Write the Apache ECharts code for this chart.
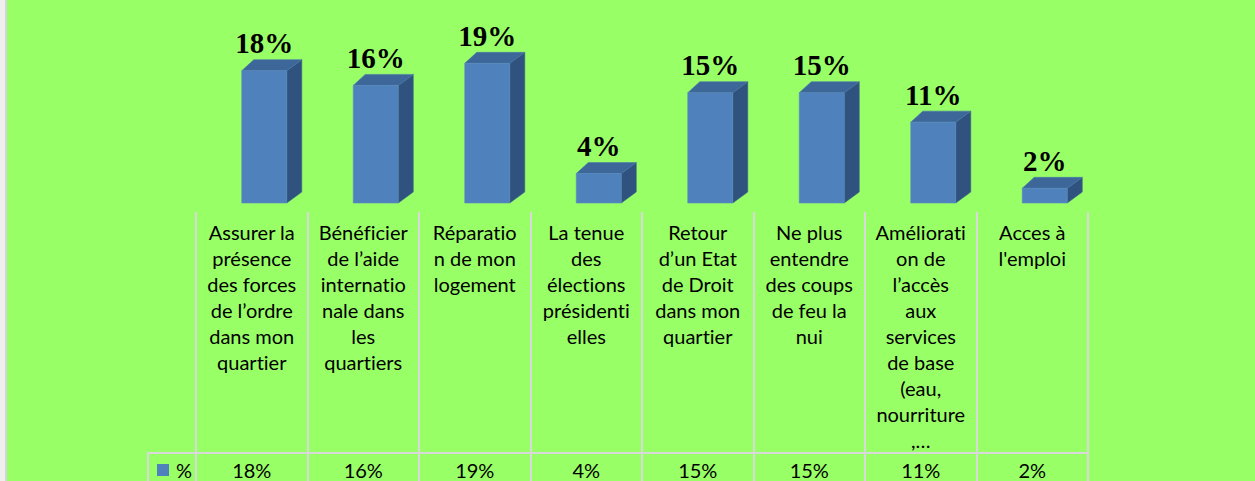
<!DOCTYPE html>
<html>
<head>
<meta charset="utf-8">
<script src="https://cdn.jsdelivr.net/npm/echarts@6/dist/echarts.min.js"></script>
<style>
html,body{margin:0;padding:0;background:#99FF66;}
#c{width:1255px;height:481px;}
#c text{font-variant-ligatures:none;font-feature-settings:"liga" 0;}
</style>
</head>
<body>
<div id="c"></div>
<script>
const categories = [
  "Assurer la\nprésence\ndes forces\nde l’ordre\ndans mon\nquartier",
  "Bénéficier\nde l’aide\ninternatio\nnale dans\nles\nquartiers",
  "Réparatio\nn de mon\nlogement",
  "La tenue\ndes\nélections\nprésidenti\nelles",
  "Retour\nd’un Etat\nde Droit\ndans mon\nquartier",
  "Ne plus\nentendre\ndes coups\nde feu la\nnui",
  "Améliorati\non de\nl’accès\naux\nservices\nde base\n(eau,\nnourriture\n,…",
  "Acces à\nl'emploi"
];
const seriesName = "%";
const values = [18, 16, 19, 4, 15, 15, 11, 2];

const FRONT = '#4F81BD', TOP = '#3D6699', SIDE = '#30527E';
const GRIDC = '#D9D9D9';
const FONT = 'Lato';

const chart = echarts.init(document.getElementById('c'), null, { renderer: 'svg' });

function renderItem(params, api) {
  const idx = api.value(0), v = api.value(1);
  const base = api.coord([idx, 0]);
  const tp = api.coord([idx, v]);
  const x0 = base[0] - 10, x1 = x0 + 45;
  const y0 = base[1], y1 = tp[1];
  const dxl = 12, dxr = 15, dy = 11;
  return {
    type: 'group',
    children: [
      { type: 'polygon', shape: { points: [[x1, y0], [x1 + dxr, y0 - dy], [x1 + dxr, y1 - dy], [x1, y1]] },
        style: { fill: SIDE, stroke: '#3A5F8E', lineWidth: 0.6 } },
      { type: 'polygon', shape: { points: [[x0, y1], [x1, y1], [x1 + dxr, y1 - dy], [x0 + dxl, y1 - dy]] },
        style: { fill: TOP, stroke: '#4A77AD', lineWidth: 0.6 } },
      { type: 'rect', shape: { x: x0, y: y1, width: x1 - x0, height: y0 - y1 },
        style: { fill: FRONT, stroke: '#5A8AC4', lineWidth: 0.6 } },
      { type: 'text', style: { text: v + '%', x: (x0 + x1) / 2, y: y1 - 13,
        align: 'center', verticalAlign: 'bottom', fontFamily: 'Liberation Serif',
        fontWeight: 'bold', fontSize: 29, fill: '#000' } }
    ]
  };
}

chart.setOption({
  backgroundColor: '#99FF66',
  animation: false,
  grid: [
    { left: 196, width: 892, top: 56, height: 147 },
    { left: 196, width: 892, top: 212, bottom: 0 }
  ],
  xAxis: [
    { type: 'category', gridIndex: 0, data: categories,
      axisLine: { show: false }, axisTick: { show: false }, splitLine: { show: false },
      axisLabel: { interval: 0, margin: 16, fontFamily: FONT, fontSize: 20, lineHeight: 26,
        color: '#000', verticalAlign: 'top', align: 'center' } },
    { type: 'category', gridIndex: 1, data: values.map(v => v + '%'), position: 'bottom',
      axisLine: { show: false }, axisTick: { show: false },
      splitLine: { show: true, interval: 0, lineStyle: { color: GRIDC, width: 2 } },
      axisLabel: { interval: 0, inside: true, margin: 11, fontFamily: FONT, fontSize: 20,
        color: '#000', verticalAlign: 'middle' } }
  ],
  yAxis: [
    { type: 'value', gridIndex: 0, min: 0, max: 20, show: false },
    { type: 'value', gridIndex: 1, min: 0, max: 1, show: false }
  ],
  legend: {
    data: [seriesName], left: 157, top: 459, icon: 'rect', itemWidth: 12, itemHeight: 12,
    itemGap: 6, padding: 0,
    textStyle: { fontFamily: FONT, fontSize: 20, lineHeight: 22, color: '#000', padding: [0, 0, 0, 2] }
  },
  series: [
    { type: 'custom', name: seriesName, xAxisIndex: 0, yAxisIndex: 0,
      itemStyle: { color: FRONT },
      data: values.map((v, i) => [i, v]), encode: { x: 0, y: 1 }, renderItem: renderItem }
  ],
  graphic: [
    { type: 'rect', shape: { x: 0, y: 0, width: 6, height: 481 }, style: { fill: '#EFEFEF' } },
    { type: 'rect', shape: { x: 5, y: 0, width: 2, height: 481 }, style: { fill: '#D4D4D4' } },
    { type: 'line', shape: { x1: 148, y1: 453, x2: 1089, y2: 453 }, style: { stroke: GRIDC, lineWidth: 2 } },
    { type: 'line', shape: { x1: 148, y1: 452, x2: 148, y2: 481 }, style: { stroke: GRIDC, lineWidth: 2 } }
  ]
});
</script>
</body>
</html>
